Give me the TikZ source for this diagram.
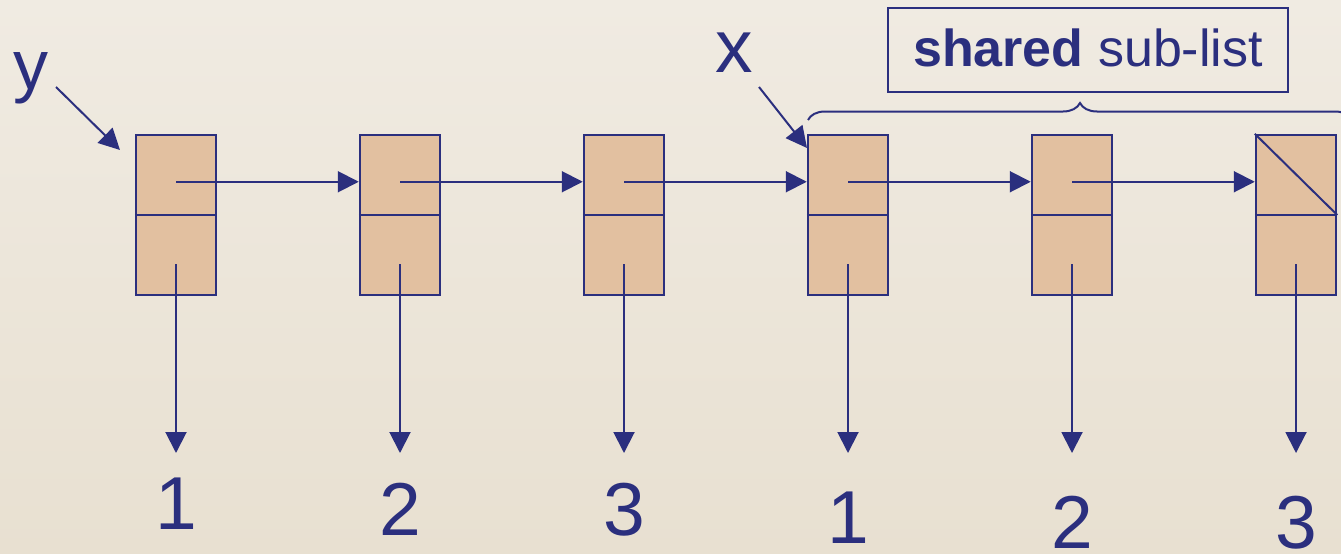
\documentclass[tikz,border=0pt]{standalone}
\usepackage{fontspec}
\setmainfont{Liberation Sans}
\usetikzlibrary{arrows.meta,decorations.pathreplacing,calc}
\definecolor{ink}{RGB}{43,47,126}
\definecolor{cell}{RGB}{226,192,160}
\definecolor{paperA}{RGB}{240,235,226}
\definecolor{paperB}{RGB}{232,224,209}

\begin{document}
\begin{tikzpicture}[x=1pt,y=1pt,
  cons/.style={draw=ink, fill=cell, line width=2.5pt, minimum width=80pt,
               minimum height=160pt, inner sep=0pt},
  ptr/.style={draw=ink, line width=2pt, -{Triangle[length=21pt,width=21pt]}},
  big/.style={text=ink, font=\fontsize{75}{90}\selectfont, inner sep=0pt, anchor=base}]
% paper background
\path[clip] (0,0) rectangle (1341,-554);
\shade[top color=paperA, bottom color=paperB] (0,0) rectangle (1341,-554);

% cons cells with their values
\foreach \i/\v/\b in {1/1/529, 2/2/535, 3/3/535, 4/1/543, 5/2/548, 6/3/548} {
  \pgfmathsetmacro\cx{176+224*(\i-1)}
  \node[cons] (c\i) at (\cx,-215) {};
  \draw[ink, line width=2.5pt] (c\i.west) -- (c\i.east);
  \coordinate (h\i) at ($(c\i.north)+(0,-48)$);
  \coordinate (t\i) at ($(c\i.south)+(0,32)$);
  \coordinate (e\i) at (\cx,-453);
  \node[big] (v\i) at (\cx,-\b) {\v};
  \draw[ptr] (t\i) -- (e\i);
}

% next pointers
\foreach \i/\j in {1/2,2/3,3/4,4/5,5/6}
  \draw[ptr] (h\i) -- (h\i -| c\j.west);

% nil in the last cell
\draw[ink, line width=2pt] (c6.north west) -- (c6.east);

% variables
\node[big, font=\fontsize{70}{84}\selectfont] (y) at (31,-89) {y};
\coordinate (ytail) at (56,-87);
\coordinate (yhead) at (120,-150);
\draw[ptr] (ytail) -- (yhead);

\node[big] (x) at (734,-72) {x};
\coordinate (xtail) at (759,-87);
\coordinate (xhead) at (807,-148);
\draw[ptr] (xtail) -- (xhead);

% shared part
\node[draw=ink, line width=2pt, minimum width=400pt, minimum height=84pt,
      inner sep=0pt, text height=40pt, text depth=8pt, text=ink,
      font=\fontsize{52}{62}\selectfont] (shared) at (1088,-50)
      {\textbf{shared} sub-list};
\coordinate (bl) at (808,-120);
\coordinate (br) at (1352,-120);
\draw[ink, line width=2pt, decorate, decoration={brace, amplitude=17pt}] (bl) -- (br);
\end{tikzpicture}
\end{document}
